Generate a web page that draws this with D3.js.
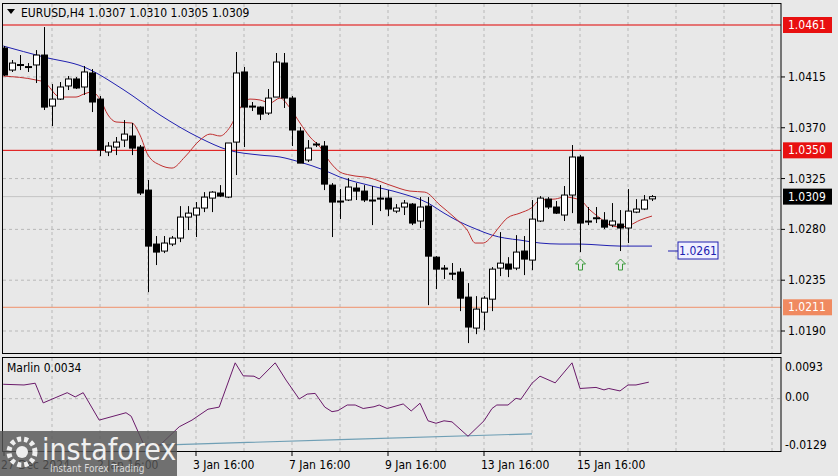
<!DOCTYPE html>
<html><head><meta charset="utf-8">
<script src="https://cdn.jsdelivr.net/npm/d3@7"></script>
<style>body{margin:0;background:#e8e8e8}svg{display:block}text{font-family:"DejaVu Sans Condensed","DejaVu Sans",sans-serif}</style>
</head><body><svg id="c" width="838" height="476"></svg>
<script>
// OHLC, H4 candles
const candles = [
[1.04406,1.04424,1.04158,1.04167],[1.04211,1.04300,1.04194,1.04273],[1.04256,1.04344,1.04211,1.04260],[1.04238,1.04273,1.04194,1.04242],
[1.04256,1.04388,1.04096,1.04344],[1.04344,1.04592,1.03857,1.03883],[1.03892,1.04087,1.03715,1.03954],[1.03954,1.04105,1.03946,1.04061],
[1.04070,1.04158,1.04034,1.04132],[1.04132,1.04149,1.04043,1.04052],[1.04061,1.04247,1.03990,1.04194],[1.04185,1.04220,1.03839,1.03928],
[1.03954,1.03981,1.03449,1.03503],[1.03485,1.03573,1.03449,1.03538],[1.03529,1.03618,1.03458,1.03573],[1.03591,1.03768,1.03529,1.03644],
[1.03627,1.03742,1.03458,1.03520],[1.03529,1.03547,1.03104,1.03122],[1.03148,1.03237,1.02244,1.02652],[1.02670,1.02741,1.02484,1.02599],
[1.02608,1.02741,1.02590,1.02679],[1.02670,1.02741,1.02652,1.02723],[1.02723,1.03006,1.02687,1.02909],[1.02909,1.03006,1.02794,1.02944],
[1.02927,1.03042,1.02732,1.02989],[1.02989,1.03130,1.02953,1.03086],[1.03077,1.03139,1.02953,1.03130],[1.03122,1.03192,1.03086,1.03095],
[1.03086,1.03565,1.03077,1.03565],[1.03573,1.04371,1.03281,1.04185],[1.04194,1.04238,1.03529,1.03883],[1.03892,1.03928,1.03848,1.03886],
[1.03883,1.03890,1.03768,1.03821],[1.03830,1.04043,1.03813,1.03963],[1.03972,1.04362,1.03972,1.04282],[1.04273,1.04362,1.03875,1.03963],
[1.03963,1.03981,1.03538,1.03680],[1.03671,1.03706,1.03387,1.03387],[1.03414,1.03591,1.03397,1.03520],[1.03550,1.03573,1.03529,1.03556],
[1.03538,1.03582,1.03148,1.03201],[1.03192,1.03210,1.02732,1.03042],[1.03051,1.03157,1.02891,1.03045],[1.03060,1.03254,1.03051,1.03175],
[1.03166,1.03210,1.03060,1.03139],[1.03139,1.03192,1.03042,1.03060],[1.03060,1.03184,1.02838,1.03055],[1.03068,1.03192,1.02962,1.03077],
[1.03077,1.03148,1.02918,1.02980],[1.02962,1.03024,1.02944,1.02989],[1.02998,1.03060,1.02927,1.03033],[1.03024,1.03033,1.02838,1.02856],
[1.02874,1.03086,1.02812,1.02998],[1.03006,1.03086,1.02129,1.02563],[1.02554,1.02563,1.02271,1.02448],[1.02457,1.02484,1.02360,1.02453],
[1.02412,1.02502,1.02351,1.02404],[1.02422,1.02457,1.02076,1.02191],[1.02200,1.02324,1.01793,1.01935],[1.01926,1.02209,1.01872,1.02094],
[1.02067,1.02209,1.01908,1.02191],[1.02182,1.02466,1.02076,1.02448],[1.02457,1.02776,1.02386,1.02501],[1.02493,1.02554,1.02377,1.02448],
[1.02457,1.02749,1.02439,1.02599],[1.02608,1.02741,1.02395,1.02537],[1.02528,1.03060,1.02439,1.02891],[1.02874,1.03095,1.02865,1.03077],
[1.03068,1.03086,1.02980,1.02998],[1.02998,1.03051,1.02936,1.02944],[1.02927,1.03184,1.02874,1.03104],[1.03104,1.03547,1.02944,1.03441],
[1.03441,1.03458,1.02599,1.02856],[1.02874,1.02998,1.02838,1.02870],[1.02900,1.02998,1.02856,1.02903],[1.02882,1.02953,1.02803,1.02820],
[1.02838,1.03033,1.02820,1.02874],[1.02847,1.02971,1.02608,1.02812],[1.02812,1.03157,1.02679,1.02962],[1.02953,1.03068,1.02944,1.02980],
[1.02980,1.03104,1.02971,1.03060],[1.03070,1.03104,1.03051,1.03090]
];
const maSlow = [[-0.1,1.04424],[5,1.04326],[10,1.04238],[15,1.04034],[19.5,1.03813],[24.5,1.03609],[28,1.03503],[32,1.03458],[34.5,1.03441],[37,1.03396],[40,1.03325],[42,1.03263],[46,1.03184],[49.5,1.03122],[53,1.03033],[55,1.02944],[57,1.02865],[59,1.02803],[61,1.02749],[62.6,1.02723],[64.5,1.02705],[67,1.02679],[69.5,1.02670],[72,1.02670],[74.5,1.02661],[77,1.02652],[81,1.02652]];
const maFast = [[-0.1,1.04158],[4,1.04123],[5,1.04105],[7,1.03972],[9,1.03972],[10,1.03999],[11,1.04017],[12,1.03954],[13,1.03813],[14,1.03751],[16,1.03742],[17,1.03635],[18,1.03458],[19.5,1.03370],[21,1.03343],[22.6,1.03441],[24.5,1.03591],[25.75,1.03644],[27,1.03627],[28.25,1.03706],[29.5,1.03874],[30.75,1.03954],[32,1.03946],[33.25,1.03919],[34.5,1.03963],[35.75,1.03874],[37,1.03742],[38.25,1.03618],[39.5,1.03530],[40.75,1.03396],[42,1.03308],[43.25,1.03281],[45.75,1.03255],[48.25,1.03192],[50.75,1.03139],[52.6,1.03130],[54.5,1.03015],[56.4,1.02900],[57.9,1.02794],[58.9,1.02679],[59.9,1.02679],[60.9,1.02732],[61.9,1.02821],[62.9,1.02900],[64.5,1.02944],[65.9,1.02989],[67,1.03060],[68.9,1.03069],[70.1,1.03086],[72,1.03060],[73.25,1.02971],[74.5,1.02900],[75.75,1.02838],[77,1.02821],[78.25,1.02838],[79.5,1.02882],[81,1.02918]];
const marlin = [[-0.1,0.0041],[2.5,0.0039],[3.9,0.0044],[4.9,-0.0012],[7.9,0.0017],[8.9,0.0005],[9.9,0.0017],[11.9,-0.0061],[15.25,-0.0040],[15.9,-0.0050],[17.5,-0.0132],[19.5,-0.0132],[21.9,-0.0080],[23.5,-0.0061],[25.5,-0.0030],[26.9,-0.0024],[28.9,0.0102],[29.9,0.0065],[31.25,0.0064],[31.9,0.0056],[33.9,0.0102],[35.25,0.0053],[36.9,-0.0001],[37.9,0.0013],[38.9,0.0015],[40.1,-0.0024],[41,-0.0037],[41.75,-0.0034],[42.9,-0.0018],[43.9,-0.0018],[44.9,-0.0028],[46.25,-0.0023],[46.9,-0.0018],[47.9,-0.0028],[49.9,-0.0015],[50.9,-0.0035],[52,-0.0013],[53,-0.0063],[54,-0.0070],[55,-0.0063],[56,-0.0066],[58,-0.0107],[60,-0.0063],[61,-0.0028],[61.6,-0.0018],[63,-0.0018],[64,0.0001],[64.6,-0.0002],[66,0.0044],[67,0.0064],[68.9,0.0045],[71,0.0102],[72,0.0029],[74,0.0032],[75,0.0025],[75.6,0.0029],[77,0.0022],[78,0.0039],[79,0.0039],[80.6,0.0047]];
const signal = [[19.5,-0.0132],[43,-0.0116],[66,-0.0100]];
const priceTicks = [1.0415,1.0370,1.0325,1.0280,1.0235,1.0190];
const levels = [{v:1.0461,c:"#e00000",bg:"#e81010"},{v:1.0350,c:"#e00000",bg:"#e81010"},{v:1.0211,c:"#f0906a",bg:"#f08a60"}];
const current = 1.0309, slowLabel = 1.0261;
const indTicks = [0.0093,0.00,-0.0129];
const timeLabels = [[0,"27 Dec 2024"],[12,"2 Jan 16:00"],[24,"3 Jan 16:00"],[36,"7 Jan 16:00"],[48,"9 Jan 16:00"],[60,"13 Jan 16:00"],[72,"15 Jan 16:00"]];
const arrows = [72,77];

const svg = d3.select("#c");
const x = d3.scaleLinear().domain([0,81]).range([4,652]);
const y = d3.scaleLinear().domain([1.0461,1.0190]).range([25,331]);
const yi = d3.scaleLinear().domain([0.0093,-0.0129]).range([366,444]);
const R = 781;
svg.append("rect").attr("width",838).attr("height",476).attr("fill","#e8e8e8");
svg.append("clipPath").attr("id","mc").append("rect").attr("x",3).attr("y",4).attr("width",R-3).attr("height",349);
svg.append("clipPath").attr("id","ic").append("rect").attr("x",3).attr("y",358).attr("width",R-3).attr("height",93);
// grid
const vg = d3.range(6,97,6);
[[4,353],[358,451]].forEach(([a,b])=>{
 svg.selectAll(null).data(vg.filter(i=>x(i)<R)).enter().append("line").attr("x1",d=>x(d)).attr("x2",d=>x(d)).attr("y1",a).attr("y2",b)
  .attr("stroke","#b8b8b8").attr("stroke-dasharray","3,3");
});
svg.selectAll(null).data(priceTicks).enter().append("line").attr("x1",3).attr("x2",R).attr("y1",d=>y(d)).attr("y2",d=>y(d)).attr("stroke","#b8b8b8").attr("stroke-dasharray","3,3");
svg.append("line").attr("x1",3).attr("x2",R).attr("y1",yi(0)).attr("y2",yi(0)).attr("stroke","#b8b8b8").attr("stroke-dasharray","3,3");
svg.append("line").attr("x1",3).attr("x2",R).attr("y1",y(current)).attr("y2",y(current)).attr("stroke","#c4c4c4");
// levels
svg.selectAll(null).data(levels).enter().append("line").attr("x1",3).attr("x2",R).attr("y1",d=>y(d.v)).attr("y2",d=>y(d.v)).attr("stroke",d=>d.c).attr("stroke-width",1);
// MAs
const ln = d3.line().x(d=>x(d[0])).y(d=>y(d[1])).curve(d3.curveMonotoneX);
const g = svg.append("g").attr("clip-path","url(#mc)");
g.append("path").attr("d",ln(maSlow)).attr("fill","none").attr("stroke","#2020b0").attr("stroke-width",1);
g.append("path").attr("d",ln(maFast)).attr("fill","none").attr("stroke","#c03030").attr("stroke-width",1);
// candles
const cg = g.selectAll(null).data(candles).enter().append("g");
cg.append("line").attr("x1",(d,i)=>x(i)+0.5).attr("x2",(d,i)=>x(i)+0.5).attr("y1",d=>y(d[1])).attr("y2",d=>y(d[2])).attr("stroke","#000");
cg.append("rect").attr("x",(d,i)=>x(i)-2.5).attr("width",6)
 .attr("y",d=>y(Math.max(d[0],d[3]))).attr("height",d=>Math.max(1,Math.abs(y(d[0])-y(d[3]))))
 .attr("fill",d=>d[3]>=d[0]?"#fff":"#000").attr("stroke","#000");
// arrows
arrows.forEach(i=>{
 const cx=x(i)+0.5, cy=265;
 svg.append("path").attr("d",`M${cx},${cy-6}L${cx+5},${cy-1}L${cx+2},${cy-1}L${cx+2},${cy+5}L${cx-2},${cy+5}L${cx-2},${cy-1}L${cx-5},${cy-1}Z`)
  .attr("fill","#e8e8e8").attr("stroke","#3a9a3a");
});
// slow MA label
svg.append("line").attr("x1",668).attr("x2",678).attr("y1",251).attr("y2",251).attr("stroke","#2020b0");
svg.append("rect").attr("x",678).attr("y",242).attr("width",40).attr("height",17).attr("fill","#f0f0ff").attr("stroke","#2020b0");
svg.append("text").attr("x",698).attr("y",255).attr("text-anchor","middle").attr("font-size",12).attr("fill","#2020b0").text(slowLabel.toFixed(4));
// frames
svg.append("rect").attr("x",2.5).attr("y",3.5).attr("width",R-2.5).attr("height",350).attr("fill","none").attr("stroke","#000");
svg.append("rect").attr("x",2.5).attr("y",357.5).attr("width",R-2.5).attr("height",94).attr("fill","none").attr("stroke","#000");
// price axis
svg.selectAll(null).data(priceTicks).enter().append("g").each(function(d){
 const s=d3.select(this);
 s.append("line").attr("x1",R).attr("x2",R+4).attr("y1",y(d)).attr("y2",y(d)).attr("stroke","#000");
 s.append("text").attr("x",788).attr("y",y(d)+4).attr("font-size",12).attr("fill","#000").text(d.toFixed(4));
});
levels.forEach(l=>{
 svg.append("rect").attr("x",783).attr("y",y(l.v)-8).attr("width",49).attr("height",16).attr("fill",l.bg);
 svg.append("text").attr("x",788).attr("y",y(l.v)+4).attr("font-size",12).attr("fill","#fff").text(l.v.toFixed(4));
});
svg.append("rect").attr("x",783).attr("y",y(current)-8).attr("width",49).attr("height",16).attr("fill","#000");
svg.append("text").attr("x",788).attr("y",y(current)+4).attr("font-size",12).attr("fill","#fff").text(current.toFixed(4));
// indicator
const g2 = svg.append("g").attr("clip-path","url(#ic)");
const li = d3.line().x(d=>x(d[0])).y(d=>yi(d[1]));
g2.append("path").attr("d",li(signal)).attr("fill","none").attr("stroke","#6f9fb5").attr("stroke-width",1.2);
g2.append("path").attr("d",li(marlin)).attr("fill","none").attr("stroke","#6a1a6a").attr("stroke-width",1);
svg.append("text").attr("x",7).attr("y",372).attr("font-size",12).attr("fill","#000").text("Marlin 0.0034");
[[0.0093,367],[0,397],[-0.0129,445]].forEach(([v,py])=>{
 svg.append("text").attr("x",785).attr("y",py+4).attr("font-size",12).attr("fill","#000").text(v===0?"0.00":v.toFixed(4));
});
// time axis
timeLabels.forEach(([i,t])=>{
 svg.append("line").attr("x1",x(i)).attr("x2",x(i)).attr("y1",452).attr("y2",456).attr("stroke","#000");
 svg.append("text").attr("x",x(i)-3).attr("y",469).attr("font-size",12).attr("fill","#000").text(t);
});
// header
svg.append("path").attr("d","M7,9L15,9L11,14Z").attr("fill","#000");
svg.append("text").attr("x",21).attr("y",17).attr("font-size",12).attr("fill","#000").text("EURUSD,H4  1.0307 1.0310 1.0305 1.0309");
// logo
svg.append("rect").attr("x",0).attr("y",431).attr("width",177).attr("height",45).attr("fill","#555").attr("opacity",0.82);
const lg = svg.append("g").attr("fill","#fff");
lg.append("circle").attr("cx",22).attr("cy",452).attr("r",13).attr("fill","none").attr("stroke","#eee").attr("stroke-width",5).attr("stroke-dasharray","4,3");
lg.append("circle").attr("cx",22).attr("cy",452).attr("r",6).attr("fill","#eee");
lg.append("text").attr("x",42).attr("y",460).attr("font-size",30).attr("font-family","Open Sans, sans-serif").attr("fill","#f0f0f0").text("instaforex");
lg.append("text").attr("x",50).attr("y",472).attr("font-size",10).attr("fill","#ddd").text("Instant Forex Trading");
</script></body></html>
